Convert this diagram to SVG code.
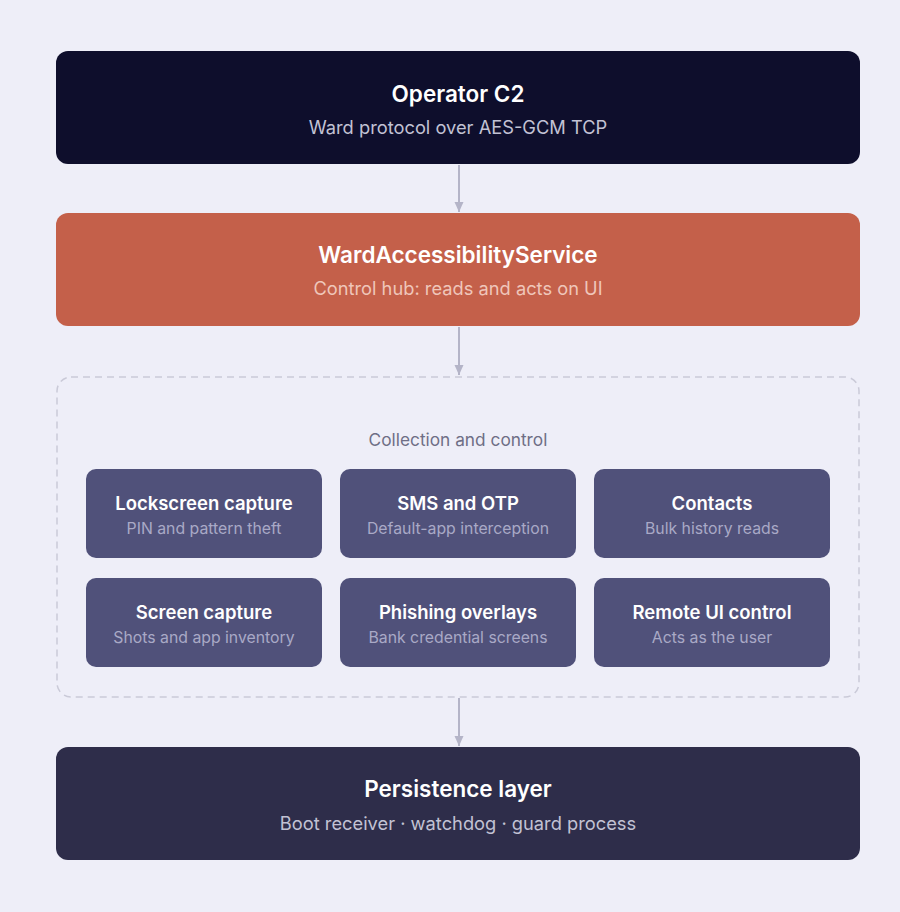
<svg xmlns="http://www.w3.org/2000/svg" width="900" height="912" viewBox="0 0 900 912">
<style>
text{font-family:Inter,"Noto Sans","Liberation Sans",sans-serif;text-anchor:middle}
.t{font-size:22.5px;font-weight:600;fill:#ffffff}
.s{font-size:18.3px;fill:#c2c2d4}
.bt{font-size:18.5px;font-weight:600;fill:#ffffff}
.bs{font-size:15.8px;fill:#a9a9c6}
.box{fill:#50517a}
.conn{stroke:#b4b4c8;stroke-width:2;fill:none}
</style>
<defs>
<marker id="ah" viewBox="0 0 10 10" refX="10" refY="5" markerWidth="10" markerHeight="10" markerUnits="userSpaceOnUse" orient="auto">
<path d="M0,0.5L10,5L0,9.5z" fill="#b4b4c8"/>
</marker>
</defs>
<rect width="900" height="912" fill="#eeeef8"/>
<g id="connectors">
<line class="conn" x1="459" y1="165" x2="459" y2="212" marker-end="url(#ah)"/>
<line class="conn" x1="459" y1="327" x2="459" y2="375" marker-end="url(#ah)"/>
<line class="conn" x1="459" y1="698" x2="459" y2="746" marker-end="url(#ah)"/>
</g>
<g id="operator-c2">
<rect x="56" y="51" width="804" height="113" rx="12" fill="#0e0e2c"/>
<text class="t" x="458" y="102">Operator C2</text>
<text class="s" x="458" y="134">Ward protocol over AES-GCM TCP</text>
</g>
<g id="ward-accessibility-service">
<rect x="56" y="213" width="804" height="113" rx="12" fill="#c4604a"/>
<text class="t" x="458" y="263">WardAccessibilityService</text>
<text class="s" x="458" y="295" style="fill:#efc6ba">Control hub: reads and acts on UI</text>
</g>
<g id="collection-and-control">
<rect x="57" y="377" width="802" height="320" rx="14" fill="none" stroke="#cacad8" stroke-width="1.5" stroke-dasharray="7 5"/>
<text x="458" y="446" style="font-size:17.3px;fill:#6e6e86">Collection and control</text>
</g>
<g id="lockscreen-capture">
<rect class="box" x="86" y="469" width="236" height="89" rx="10"/>
<text class="bt" x="204" y="510">Lockscreen capture</text>
<text class="bs" x="204" y="534">PIN and pattern theft</text>
</g>
<g id="sms-and-otp">
<rect class="box" x="340" y="469" width="236" height="89" rx="10"/>
<text class="bt" x="458" y="510">SMS and OTP</text>
<text class="bs" x="458" y="534">Default-app interception</text>
</g>
<g id="contacts">
<rect class="box" x="594" y="469" width="236" height="89" rx="10"/>
<text class="bt" x="712" y="510">Contacts</text>
<text class="bs" x="712" y="534">Bulk history reads</text>
</g>
<g id="screen-capture">
<rect class="box" x="86" y="578" width="236" height="89" rx="10"/>
<text class="bt" x="204" y="619">Screen capture</text>
<text class="bs" x="204" y="643">Shots and app inventory</text>
</g>
<g id="phishing-overlays">
<rect class="box" x="340" y="578" width="236" height="89" rx="10"/>
<text class="bt" x="458" y="619">Phishing overlays</text>
<text class="bs" x="458" y="643">Bank credential screens</text>
</g>
<g id="remote-ui-control">
<rect class="box" x="594" y="578" width="236" height="89" rx="10"/>
<text class="bt" x="712" y="619">Remote UI control</text>
<text class="bs" x="712" y="643">Acts as the user</text>
</g>
<g id="persistence-layer">
<rect x="56" y="747" width="804" height="113" rx="12" fill="#2e2d4a"/>
<text class="t" x="458" y="797">Persistence layer</text>
<text class="s" x="458" y="830">Boot receiver · watchdog · guard process</text>
</g>
</svg>
